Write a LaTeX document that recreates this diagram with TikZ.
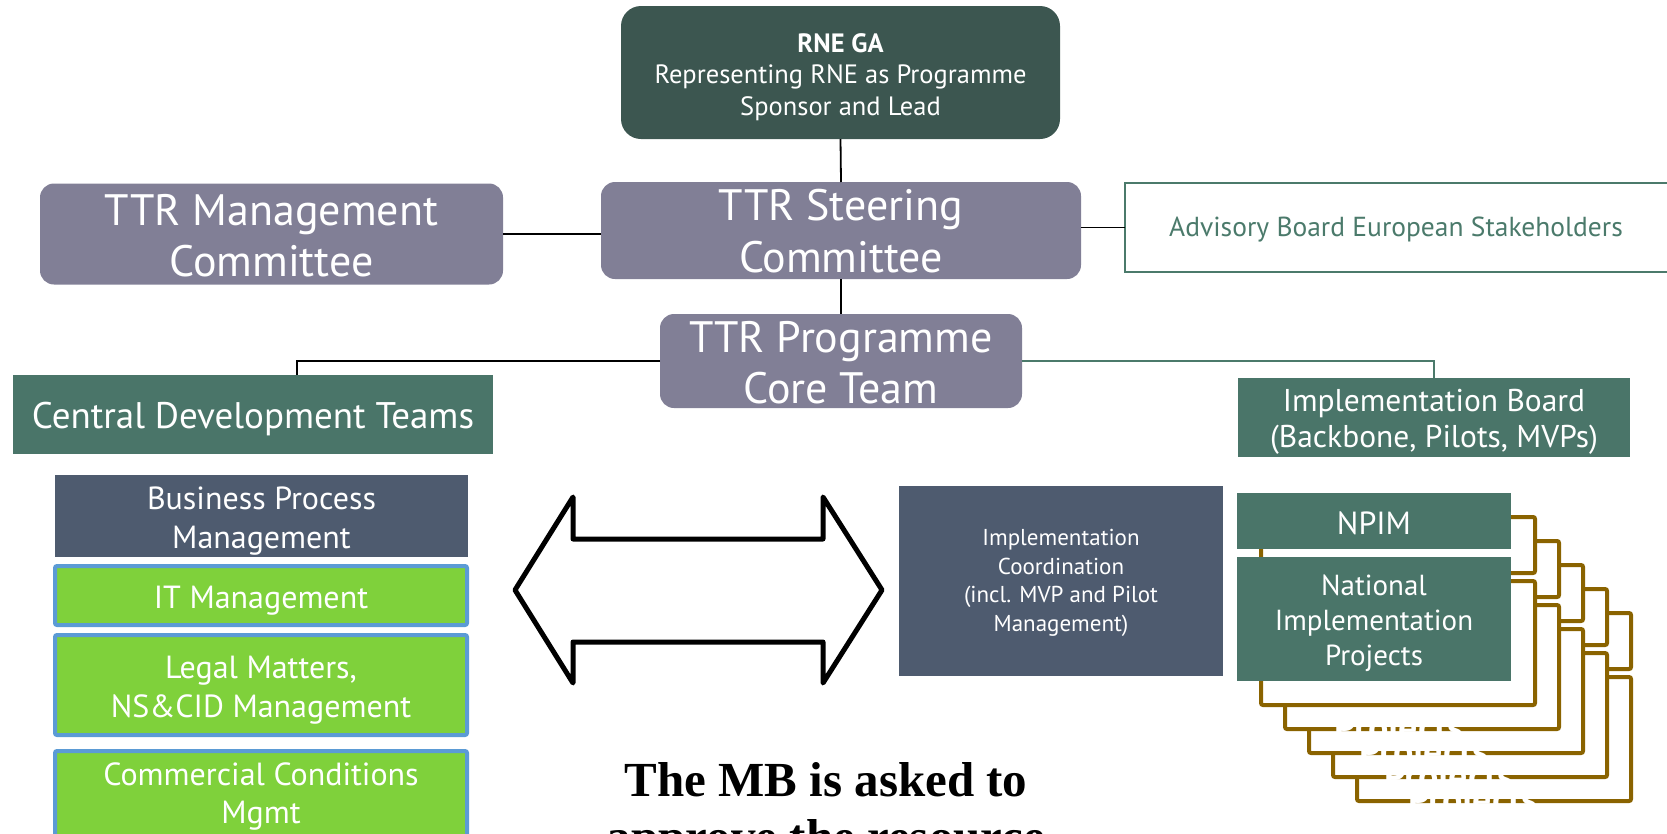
\documentclass[tikz,border=0pt]{standalone}
\usepackage{fontspec}
\setmainfont{PT Sans}
\newfontfamily\mbserif{Liberation Serif}
\newcommand\setfs[2]{\fontsize{#1pt}{#2pt}\selectfont}
\definecolor{cRne}{HTML}{3C5650}
\definecolor{cPurple}{HTML}{817F96}
\definecolor{cTeal}{HTML}{4A7569}
\definecolor{cSlate}{HTML}{4E5B6F}
\definecolor{cLime}{HTML}{7FD13B}
\definecolor{cBlue}{HTML}{5B9BD5}
\definecolor{cBrown}{HTML}{8A6300}
\definecolor{cAdv}{HTML}{4B7A6B}
\tikzset{
  base/.style={inner sep=0pt, outer sep=0pt},
  rnebox/.style={base, fill=cRne, rounded corners=20pt},
  comm/.style={base, fill=cPurple, rounded corners=14pt},
  tealbox/.style={base, fill=cTeal},
  slatebox/.style={base, fill=cSlate},
  limebox/.style={base, fill=cLime, draw=cBlue, line width=4pt, rounded corners=2pt},
  advbox/.style={base, draw=cAdv, line width=1.2pt},
  frame/.style={draw=cBrown, line width=4pt, fill=white, rounded corners=2pt},
  lbl/.style={inner sep=0pt, anchor=base, align=center, text=white},
  link/.style={draw=black, line width=1.8pt},
  glink/.style={draw=cAdv, line width=1.4pt},
  ghost/.style={inner sep=0pt, anchor=base, text=white, font={\bfseries\setfs{38}{44}}},
}
\begin{document}
\begin{tikzpicture}[x=1pt, y=-1pt]
\useasboundingbox (0,0) rectangle (1667,833);

% ---- boxes ----
\node[rnebox, minimum width=439pt, minimum height=133pt] (rne) at (840.5,72.5) {};
\node[comm, minimum width=480pt, minimum height=97pt] (steer) at (841,230.5) {};
\node[comm, minimum width=463pt, minimum height=101pt] (mgmt) at (271.5,234) {};
\node[advbox, minimum width=544pt, minimum height=89pt] (adv) at (1397,227.5) {};
\node[comm, minimum width=362pt, minimum height=94pt] (core) at (841,361) {};
\node[tealbox, minimum width=480pt, minimum height=79pt] (cdt) at (253,414.5) {};
\node[tealbox, minimum width=392pt, minimum height=79pt] (ib) at (1434,417.5) {};
\node[slatebox, minimum width=413pt, minimum height=82pt] (bpm) at (261.5,516) {};
\node[limebox, minimum width=412pt, minimum height=59pt] (itm) at (261,595.5) {};
\node[limebox, minimum width=412pt, minimum height=100pt] (legal) at (261,685) {};
\node[limebox, minimum width=412pt, minimum height=109pt] (comc) at (261,805.5) {};
\node[slatebox, minimum width=324pt, minimum height=190pt] (icoord) at (1061,581) {};

% ---- double arrow ----
\draw[line width=5pt, line join=round, fill=white]
  (515,590) -- (573,497) -- (573,539) -- (823,539) -- (823,497) -- (882,590)
  -- (823,683) -- (823,642) -- (573,642) -- (573,683) -- cycle;

% ---- stacked frames behind NPIM / national projects ----
\foreach \i in {5,4,3,2,1} {
  \draw[frame] ({1237+24*\i},{493+24*\i}) rectangle ({1511+24*\i},{549+24*\i});
  \draw[frame] ({1237+24*\i},{557+24*\i}) rectangle ({1511+24*\i},{681+24*\i});
}
\node[ghost] (gp1) at (1399,740) {Projects};
\node[ghost] (gp2) at (1424,764) {Projects};
\node[ghost] (gp3) at (1449,789) {Projects};
\node[ghost] (gp4) at (1473,812) {Projects};

\node[tealbox, minimum width=274pt, minimum height=56pt] (npim) at (1374,521) {};
\node[tealbox, minimum width=274pt, minimum height=124pt] (nip) at (1374,619) {};

% ---- texts (anchored at the baseline of their last line) ----
\node[lbl, font={\setfs{26.5}{31.5}}] (rneT) at (840.5,115)
  {\textbf{RNE GA}\\Representing RNE as Programme\\Sponsor and Lead};
\node[lbl, font={\setfs{44}{52}}] (steerT) at (841,272) {TTR Steering\\Committee};
\node[lbl, font={\setfs{44}{51}}] (mgmtT) at (271.5,276) {TTR Management\\Committee};
\node[lbl, font={\setfs{27.5}{32}}, text=cAdv] (advT) at (1396,236) {Advisory Board European Stakeholders};
\node[lbl, font={\setfs{44}{51}}] (coreT) at (841,403) {TTR Programme\\Core Team};
\node[lbl, font={\setfs{37}{42}}] (cdtT) at (253,428) {Central Development Teams};
\node[lbl, font={\setfs{31.5}{36}}] (ibT) at (1434,447) {Implementation Board\\(Backbone, Pilots, MVPs)};
\node[lbl, font={\setfs{32}{39}}] (bpmT) at (261.5,548) {Business Process\\Management};
\node[lbl, font={\setfs{32}{39}}] (itmT) at (261,608) {IT Management};
\node[lbl, font={\setfs{32}{39}}] (legalT) at (261,717) {Legal Matters,\\NS\&CID Management};
\node[lbl, font={\setfs{32}{38}}] (comcT) at (261,823) {Commercial Conditions\\Mgmt};
\node[lbl, font={\setfs{23}{28.5}}] (icoordT) at (1061,631)
  {Implementation\\Coordination\\(incl. MVP and Pilot\\Management)};
\node[lbl, font={\setfs{32}{38}}] (npimT) at (1374,534) {NPIM};
\node[lbl, font={\setfs{29}{35}}] (nipT) at (1374,665) {National\\Implementation\\Projects};

% ---- connectors ----
\coordinate (cdtTop) at (297,375);
\draw[link] (rne.south) -- (steer.north);
\draw[link] (mgmt.east) -- (mgmt.east -| steer.west);
\draw[link] (adv.west -| steer.east) -- (adv.west);
\draw[link] (steer.south) -- (core.north);
\draw[link] (core.west) -| (cdtTop);
\draw[glink] (core.east) -| (ib.north);

% ---- bottom note ----
\node[inner sep=0pt, anchor=base, align=center, font={\mbserif\bfseries\setfs{49}{57}}] (mb) at (826,853)
  {The MB is asked to\\approve the resource};
\end{tikzpicture}
\end{document}
